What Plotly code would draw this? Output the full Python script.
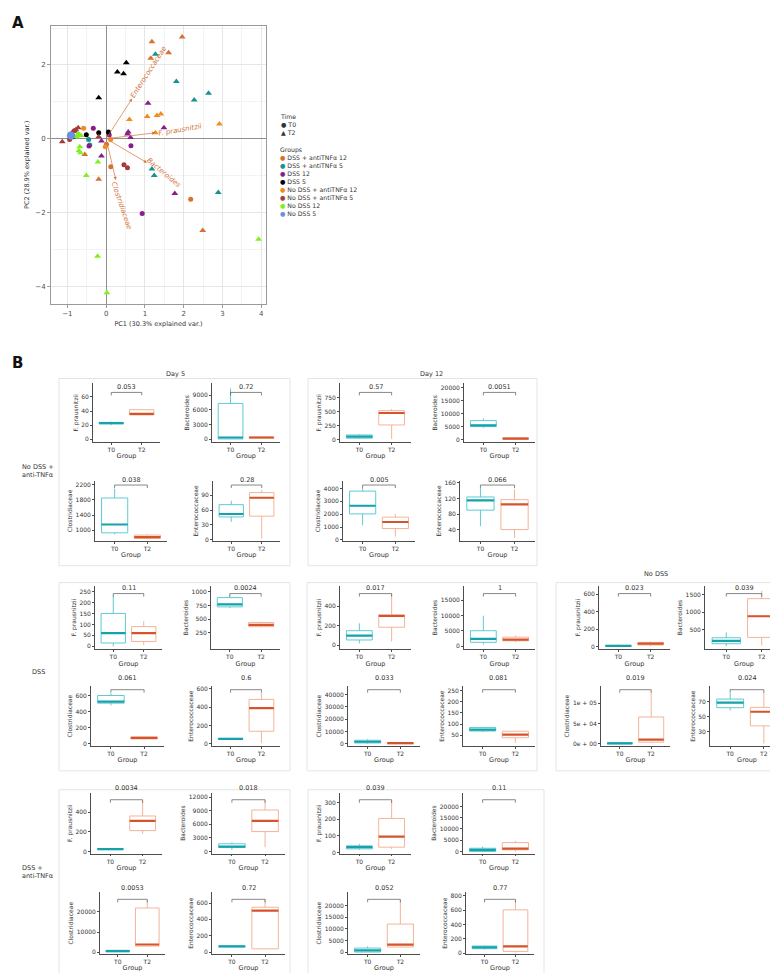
import plotly.graph_objects as go

W, H = 778, 973
FONT = "DejaVu Sans"
TXT = "#333333"
AX = "#4D4D4D"

# ================= Panel A data (PCA biplot) =================
group_names = ["DSS + antiTNFα 12", "DSS + antiTNFα 5", "DSS 12", "DSS 5",
               "No DSS + antiTNFα 12", "No DSS + antiTNFα 5", "No DSS 12", "No DSS 5"]
group_colors = ["#D5722F", "#17938F", "#8A1C8C", "#000000",
                "#F08D1F", "#A33C3C", "#82EF1E", "#6B8FE3"]

# PC1 / PC2 scores; T0 = circles, T2 = triangles
dss_anti12_t0_pc1 = [0.12, 2.18, 0.01]
dss_anti12_t0_pc2 = [-0.76, -1.64, -0.15]
dss_anti12_t2_pc1 = [1.18, 1.96, 1.15, 1.61, 2.49, -0.19, -0.55]
dss_anti12_t2_pc2 = [2.63, 2.76, 2.18, 2.33, -2.49, -1.10, -0.43]

dss_anti5_t0_pc1 = [-0.45, -0.42]
dss_anti5_t0_pc2 = [-0.02, -0.17]
dss_anti5_t2_pc1 = [1.27, 1.81, 2.27, 2.64, 1.18, 1.24, 2.89]
dss_anti5_t2_pc2 = [2.29, 1.55, 1.05, 1.23, -0.82, -1.00, -1.46]

dss12_t0_pc1 = [-0.33, 0.64, 0.08, -0.44, 0.93]
dss12_t0_pc2 = [0.28, -0.19, 0.10, -0.20, -2.03]
dss12_t2_pc1 = [1.08, 0.57, 0.55, 0.63, 1.49, -0.12, 1.77, -0.12]
dss12_t2_pc2 = [0.96, 0.18, 0.13, 0.03, 0.30, -0.47, -1.49, -0.06]

dss5_t0_pc1 = [-0.51, -0.19, 0.06, -0.85]
dss5_t0_pc2 = [0.11, 0.16, 0.18, 0.05]
dss5_t2_pc1 = [0.52, 0.29, 0.45, -0.19]
dss5_t2_pc2 = [2.06, 1.81, 1.76, 1.11]

nodss_anti12_t0_pc1 = [-0.58, 0.12, -0.02]
nodss_anti12_t0_pc2 = [0.28, -0.02, -0.22]
nodss_anti12_t2_pc1 = [0.60, 1.06, 1.31, 1.41, 2.92, 1.27]
nodss_anti12_t2_pc2 = [0.52, 0.60, 0.63, 0.67, 0.40, 0.16]

nodss_anti5_t0_pc1 = [0.46, 0.55, -0.94, -0.80]
nodss_anti5_t0_pc2 = [-0.71, -0.79, -0.02, 0.22]
nodss_anti5_t2_pc1 = [-1.13, -0.72, -0.78, -0.19, -0.85]
nodss_anti5_t2_pc2 = [-0.08, 0.30, 0.24, 0.05, 0.20]

nodss12_t0_pc1 = [-0.72]
nodss12_t0_pc2 = [0.12]
nodss12_t2_pc1 = [-0.68, -0.70, -0.66, -0.21, -0.51, -0.76, -0.22, 0.02, 3.93, -0.65]
nodss12_t2_pc2 = [-0.22, -0.33, -0.38, -0.63, -1.00, 0.05, -3.19, -4.18, -2.73, 0.09]

nodss5_t0_pc1 = [-0.95, -0.90, -0.88, -0.93, -0.86, -0.91]
nodss5_t0_pc2 = [0.08, 0.12, 0.06, 0.13, 0.10, 0.04]
nodss5_t2_pc1 = []
nodss5_t2_pc2 = []

# variable loadings (arrows)
loading_names = ["Enterococcaceae", "F. prausnitzii", "Bacteroides", "Clostridiaceae"]
loading_pc1 = [0.67, 1.27, 1.05, 0.25]
loading_pc2 = [1.09, 0.16, -0.65, -1.12]

# ================= Panel B data (box plot summaries) =================
taxa = ["F. prausnitzii", "Bacteroides", "Clostridiaceae", "Enterococcaceae"]
# each entry: [lower whisker, Q1, median, Q3, upper whisker] for FP, Bac, Clo, Ent

# No DSS + anti-TNFα, Day 5
p1_t0 = [[20, 22, 23, 24, 25], [0, 50, 350, 7300, 10360], [890, 930, 1150, 1850, 2095], [36, 46, 52, 71, 79]]
p1_t2 = [[34, 34.5, 36, 42, 42], [150, 220, 350, 450, 520], [760, 780, 815, 870, 900], [2, 47.5, 85, 95.5, 101]]
p1_pval = ["0.053", "0.72", "0.038", "0.28"]
p1_ticks = [[0, 20, 40, 60], [0, 3000, 6000, 9000], [1000, 1400, 1800, 2200], [0, 30, 60, 90]]

# No DSS + anti-TNFα, Day 12
p2_t0 = [[20, 30, 60, 88, 100], [4600, 5080, 5580, 7360, 8235], [1140, 2023, 2660, 3800, 4050], [48.6, 90, 115, 124, 147]]
p2_t2 = [[18, 265, 478, 520, 549], [200, 300, 500, 800, 900], [250, 880, 1390, 1770, 2020], [18.6, 40, 105, 117, 144]]
p2_pval = ["0.57", "0.0051", "0.005", "0.066"]
p2_ticks = [[0, 250, 500, 750], [0, 5000, 10000, 15000, 20000], [0, 1000, 2000, 3000, 4000], [40, 80, 120, 160]]

# DSS, Day 5
p3_t0 = [[0, 15, 60, 150, 230], [700, 724, 771, 892, 934], [477, 505, 525, 600, 628], [45, 50, 55, 60, 62]]
p3_t2 = [[5, 22, 60, 90, 115], [350, 365, 395, 440, 455], [55, 62, 74, 86, 90], [11, 138, 390, 485, 553]]
p3_pval = ["0.11", "0.0024", "0.061", "0.6"]
p3_ticks = [[0, 50, 100, 150, 200, 250], [250, 500, 750, 1000], [0, 200, 400, 600], [0, 200, 400, 600]]

# DSS, Day 12
p4_t0 = [[20, 55, 100, 150, 225], [500, 1200, 2300, 5000, 9900], [300, 800, 1800, 3000, 4000], [65, 69, 75, 85, 86]]
p4_t2 = [[40, 185, 300, 315, 525], [1200, 1700, 2100, 2900, 3400], [100, 200, 700, 1100, 1400], [16, 39, 53, 68, 68]]
p4_pval = ["0.017", "1", "0.033", "0.081"]
p4_ticks = [[0, 200, 400], [0, 5000, 10000, 15000], [0, 10000, 20000, 30000, 40000], [50, 100, 150, 200, 250]]

# No DSS
p5_t0 = [[0, 5, 10, 15, 25], [30, 100, 180, 270, 420], [0, 500, 1500, 3000, 4000], [58.3, 62, 68.7, 73.5, 81.6]]
p5_t2 = [[5, 20, 35, 50, 60], [50, 280, 880, 1380, 1600], [2000, 4200, 10700, 66000, 128000], [14.2, 37.7, 56.6, 62.4, 82.6]]
p5_pval = ["0.023", "0.039", "0.019", "0.024"]
p5_ticks = [[0, 200, 400, 600], [500, 1000, 1500], [0, 50000, 100000], [30, 50, 70]]
p5_clo_ticklabels = ["0e + 00", "5e + 04", "1e + 05"]

# DSS + anti-TNFα, Day 5
p6_t0 = [[15, 20, 25, 30, 35], [370, 880, 1100, 1700, 2040], [100, 200, 500, 900, 1000], [60, 65, 70, 75, 78]]
p6_t2 = [[180, 214, 313, 363, 515], [950, 4390, 6730, 9150, 11190], [2900, 2980, 3800, 21990, 25800], [40, 40, 507, 548, 642]]
p6_pval = ["0.0034", "0.018", "0.0053", "0.72"]
p6_ticks = [[0, 200, 400], [0, 3000, 6000, 9000, 12000], [0, 10000, 20000], [0, 200, 400, 600]]

# DSS + anti-TNFα, Day 12
p7_t0 = [[16, 22, 32, 40, 52], [0, 0, 740, 1450, 2200], [0, 0, 720, 1720, 2460], [50, 61, 80, 99, 105]]
p7_t2 = [[20, 32, 95, 204, 308], [0, 740, 1320, 3970, 4700], [2000, 2170, 3170, 12030, 22040], [5, 24, 94, 603, 730]]
p7_pval = ["0.039", "0.11", "0.052", "0.77"]
p7_ticks = [[0, 100, 200, 300], [0, 5000, 10000, 15000, 20000], [0, 5000, 10000, 15000, 20000], [0, 200, 400, 600, 800]]

# ================= layout helpers =================
def px_x(p):
    return p / W


def px_y(p):
    return 1 - p / H


fig = go.Figure()
axes = {}
annotations = []
shapes = []

# ---------------- Panel A ----------------
score_sets = [
    (dss_anti12_t0_pc1, dss_anti12_t0_pc2, dss_anti12_t2_pc1, dss_anti12_t2_pc2),
    (dss_anti5_t0_pc1, dss_anti5_t0_pc2, dss_anti5_t2_pc1, dss_anti5_t2_pc2),
    (dss12_t0_pc1, dss12_t0_pc2, dss12_t2_pc1, dss12_t2_pc2),
    (dss5_t0_pc1, dss5_t0_pc2, dss5_t2_pc1, dss5_t2_pc2),
    (nodss_anti12_t0_pc1, nodss_anti12_t0_pc2, nodss_anti12_t2_pc1, nodss_anti12_t2_pc2),
    (nodss_anti5_t0_pc1, nodss_anti5_t0_pc2, nodss_anti5_t2_pc1, nodss_anti5_t2_pc2),
    (nodss12_t0_pc1, nodss12_t0_pc2, nodss12_t2_pc1, nodss12_t2_pc2),
    (nodss5_t0_pc1, nodss5_t0_pc2, nodss5_t2_pc1, nodss5_t2_pc2),
]

grid_major = "#E6E6E6"
grid_minor = "#F3F3F3"
axes["xaxis"] = dict(domain=[px_x(43), px_x(258)], range=[-1.42, 4.12], anchor="y",
                     tickmode="array", tickvals=[-1, 0, 1, 2, 3, 4],
                     showgrid=True, gridcolor=grid_major, gridwidth=1,
                     minor=dict(tick0=0, dtick=0.5, showgrid=True, gridcolor=grid_minor, ticks=""),
                     zeroline=True, zerolinecolor="#8F8F8F", zerolinewidth=1,
                     showline=True, mirror=True, linecolor="#9A9A9A", linewidth=1,
                     ticks="outside", ticklen=3, tickcolor="#9A9A9A",
                     tickfont=dict(size=7, color="#4D4D4D"),
                     title=dict(text="PC1 (30.3% explained var.)", font=dict(size=6.5, color=TXT), standoff=4))
axes["yaxis"] = dict(domain=[px_y(295), px_y(16)], range=[-4.48, 3.06], anchor="x",
                     tickmode="array", tickvals=[-4, -2, 0, 2],
                     showgrid=True, gridcolor=grid_major, gridwidth=1,
                     minor=dict(tick0=1, dtick=2, showgrid=True, gridcolor=grid_minor, ticks=""),
                     zeroline=True, zerolinecolor="#8F8F8F", zerolinewidth=1,
                     showline=True, mirror=True, linecolor="#9A9A9A", linewidth=1,
                     ticks="outside", ticklen=3, tickcolor="#9A9A9A",
                     tickfont=dict(size=7, color="#4D4D4D"),
                     title=dict(text="PC2 (28.9% explained var.)", font=dict(size=6.5, color=TXT), standoff=4))

for (t0x, t0y, t2x, t2y), color in zip(score_sets, group_colors):
    if t0x:
        fig.add_trace(go.Scatter(x=t0x, y=t0y, mode="markers", xaxis="x", yaxis="y",
                                 marker=dict(symbol="circle", size=5, color=color, line=dict(width=0)),
                                 showlegend=False, hoverinfo="skip"))
    if t2x:
        fig.add_trace(go.Scatter(x=t2x, y=t2y, mode="markers", xaxis="x", yaxis="y",
                                 marker=dict(symbol="triangle-up", size=6, color=color, line=dict(width=0)),
                                 showlegend=False, hoverinfo="skip"))

ARROW = "#D2733A"
label_angle = [-57, -10, 40, 71]
label_factor = [1.65, 1.5, 1.42, 1.62]
for name, lx, ly, ang, f in zip(loading_names, loading_pc1, loading_pc2, label_angle, label_factor):
    annotations.append(dict(x=lx, y=ly, ax=0, ay=0, xref="x", yref="y", axref="x", ayref="y",
                            text="", showarrow=True, arrowhead=2, arrowsize=0.9, arrowwidth=0.7,
                            arrowcolor=ARROW))
    annotations.append(dict(x=lx * f, y=ly * f, xref="x", yref="y", text="<i>" + name + "</i>",
                            showarrow=False, textangle=ang, font=dict(size=7, color=ARROW)))

# legend (text based)
annotations.append(dict(x=px_x(270), y=px_y(101), xref="paper", yref="paper", xanchor="left", yanchor="top",
                        align="left", showarrow=False, font=dict(size=6.2, color=TXT),
                        text="Time<br>● T0<br>▲ T2"))
grp_lines = ["Groups"] + ["<span style='color:%s'>●</span> %s" % (c, g) for g, c in zip(group_names, group_colors)]
annotations.append(dict(x=px_x(270), y=px_y(135), xref="paper", yref="paper", xanchor="left", yanchor="top",
                        align="left", showarrow=False, font=dict(size=6.2, color=TXT),
                        text="<br>".join(grp_lines)))

annotations.append(dict(x=px_x(2), y=px_y(2), xref="paper", yref="paper", xanchor="left", yanchor="top",
                        showarrow=False, text="<b>A</b>", font=dict(size=15, color="#111111")))
annotations.append(dict(x=px_x(2), y=px_y(343), xref="paper", yref="paper", xanchor="left", yanchor="top",
                        showarrow=False, text="<b>B</b>", font=dict(size=15, color="#111111")))

# ---------------- Panel B ----------------
T0_LINE, T0_MED = "#4CC6CE", "#16A1AB"
T2_LINE, T2_MED = "#F3AC8C", "#D5542A"

panels = [
    (p1_t0, p1_t2, p1_pval, p1_ticks),
    (p2_t0, p2_t2, p2_pval, p2_ticks),
    (p3_t0, p3_t2, p3_pval, p3_ticks),
    (p4_t0, p4_t2, p4_pval, p4_ticks),
    (p5_t0, p5_t2, p5_pval, p5_ticks),
    (p6_t0, p6_t2, p6_pval, p6_ticks),
    (p7_t0, p7_t2, p7_pval, p7_ticks),
]
# y ranges (axis limits) per subplot
y_ranges = [
    [[-4, 79], [-610, 11377], [719, 2297], [-2.6, 119]],
    [[-41, 1003], [-873, 21518], [-76, 4585], [11, 165]],
    [[-14, 277], [-48, 1110], [-25, 715], [-22, 629]],
    [[-41, 611], [-1100, 19770], [-1600, 46700], [2.4, 269]],
    [[-30, 700], [-60, 1750], [-5000, 141400], [11, 90.6]],
    [[-20, 600], [-440, 12943], [-1000, 29780], [-24, 730]],
    [[-6, 358], [-880, 26050], [-870, 25650], [-14, 847]],
]
frames = [(51, 282, 370, 558), (300, 529, 370, 558), (51, 282, 575, 764), (299, 529, 575, 764),
          (548, 777, 575, 764), (51, 282, 783, 972), (300, 536, 783, 972)]
xspans = [
    [(85, 152), (204, 272), (87, 159), (205, 272)],
    [(332, 403), (456, 527), (335, 407), (452, 527)],
    [(87, 154), (203, 272), (83, 156), (204, 272)],
    [(332, 403), (456, 527), (340, 412), (455, 527)],
    [(591, 662), (697, 775), (593, 662), (702, 776)],
    [(83, 154), (204, 277), (92, 157), (204, 277)],
    [(332, 403), (455, 527), (340, 412), (458, 526)],
]
row_y = [((375, 434), (473, 533)), ((578, 642), (679, 739)), ((786, 847), (886, 948))]
bracket_y = [(384, 477), (586, 682.5), (793, 893)]
panel_row = [0, 0, 1, 1, 1, 2, 2]

for fr in frames:
    shapes.append(dict(type="rect", xref="paper", yref="paper", x0=px_x(fr[0]), x1=px_x(fr[1]),
                       y0=px_y(fr[3]), y1=px_y(fr[2]), line=dict(color="#E4E4E4", width=1),
                       fillcolor="rgba(0,0,0,0)", layer="below"))

n = 2
for pi, (t0s, t2s, pv, tks) in enumerate(panels):
    row = panel_row[pi]
    for k in range(4):
        xs = xspans[pi][k]
        ys = row_y[row][k // 2]
        xr, yr = "x%d" % n, "y%d" % n
        ticktext = [str(v) for v in tks[k]]
        if pi == 4 and k == 2:
            ticktext = p5_clo_ticklabels
        axes["xaxis%d" % n] = dict(domain=[px_x(xs[0]), px_x(xs[1])], anchor=yr, range=[0.4, 2.6],
                                   tickmode="array", tickvals=[1, 2], ticktext=["T0", "T2"],
                                   showline=True, linecolor=AX, linewidth=0.8, ticks="outside",
                                   ticklen=2, tickcolor=AX, tickwidth=0.8, showgrid=False, zeroline=False,
                                   tickfont=dict(size=6, color=TXT),
                                   title=dict(text="Group", font=dict(size=6.5, color=TXT), standoff=1))
        axes["yaxis%d" % n] = dict(domain=[px_y(ys[1]), px_y(ys[0])], anchor=xr, range=y_ranges[pi][k],
                                   tickmode="array", tickvals=tks[k], ticktext=ticktext,
                                   showline=True, linecolor=AX, linewidth=0.8, ticks="outside",
                                   ticklen=2, tickcolor=AX, tickwidth=0.8, showgrid=False, zeroline=False,
                                   tickfont=dict(size=6, color=TXT),
                                   title=dict(text=taxa[k], font=dict(size=6, color=TXT), standoff=2))
        for pos, st, cl, cm in [(1, t0s[k], T0_LINE, T0_MED), (2, t2s[k], T2_LINE, T2_MED)]:
            fig.add_trace(go.Box(x=[pos], lowerfence=[st[0]], q1=[st[1]], median=[st[2]], q3=[st[3]],
                                 upperfence=[st[4]], width=0.8, whiskerwidth=0,
                                 line=dict(color=cl, width=0.9), fillcolor="rgba(255,255,255,0)",
                                 boxpoints=False, xaxis=xr, yaxis=yr, showlegend=False, hoverinfo="skip"))
            fig.add_trace(go.Scatter(x=[pos - 0.4, pos + 0.4], y=[st[2], st[2]], mode="lines",
                                     line=dict(color=cm, width=2.2), xaxis=xr, yaxis=yr,
                                     showlegend=False, hoverinfo="skip"))
        by = bracket_y[row][k // 2]
        bl = dict(color="#555555", width=0.7)
        shapes.append(dict(type="line", xref=xr, yref="paper", x0=1, x1=2, y0=px_y(by), y1=px_y(by), line=bl))
        shapes.append(dict(type="line", xref=xr, yref="paper", x0=1, x1=1, y0=px_y(by), y1=px_y(by + 3), line=bl))
        shapes.append(dict(type="line", xref=xr, yref="paper", x0=2, x1=2, y0=px_y(by), y1=px_y(by + 3), line=bl))
        annotations.append(dict(x=1.5, y=px_y(by - 5.5), xref=xr, yref="paper", text=pv[k],
                                showarrow=False, font=dict(size=6.5, color=TXT)))
        n += 1

# panel headers / row labels
for txt, x, y in [("Day 5", 156, 366), ("Day 12", 424, 366), ("No DSS", 662, 566)]:
    annotations.append(dict(x=px_x(x), y=px_y(y), xref="paper", yref="paper", text=txt, showarrow=False,
                            font=dict(size=6.5, color=TXT)))
for txt, x, y in [("No DSS +<br>anti-TNFα", 12, 463), ("DSS", 22, 671), ("DSS +<br>anti-TNFα", 12, 876)]:
    annotations.append(dict(x=px_x(x), y=px_y(y), xref="paper", yref="paper", text=txt, showarrow=False,
                            xanchor="left", align="left", font=dict(size=6.5, color=TXT)))

fig.update_layout(width=W, height=H, autosize=False, margin=dict(l=0, r=0, t=0, b=0),
                  paper_bgcolor="white", plot_bgcolor="white", showlegend=False,
                  font=dict(family=FONT, size=6.5, color=TXT), boxmode="overlay",
                  annotations=annotations, shapes=shapes, **axes)

fig.write_html("out.html")
